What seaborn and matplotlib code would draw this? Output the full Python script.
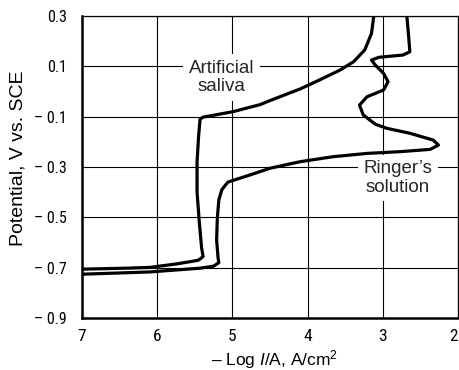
import matplotlib
matplotlib.use("Agg")
import matplotlib.pyplot as plt
import seaborn as sns
import pandas as pd

# ---- data ----
saliva_logI = [7.00, 6.41, 6.10, 5.74, 5.52, 5.45, 5.39, 5.41, 5.44, 5.47, 5.47, 5.45, 5.43,
               5.39, 4.99, 4.63, 4.50, 4.10, 3.84, 3.57, 3.39, 3.24, 3.15, 3.12]
saliva_E = [-0.706, -0.702, -0.699, -0.685, -0.674, -0.670, -0.656, -0.62, -0.52, -0.40, -0.28, -0.18, -0.11,
            -0.102, -0.080, -0.052, -0.036, 0.010, 0.046, 0.085, 0.118, 0.165, 0.231, 0.300]

ringer_logI = [7.00, 6.10, 5.74, 5.43, 5.25, 5.18, 5.19, 5.21, 5.20, 5.18, 5.14, 5.06, 4.77, 4.50,
               4.10, 3.66, 3.21, 2.77, 2.37, 2.26, 2.33, 2.64, 2.95, 3.10, 3.26, 3.31, 3.21, 2.99,
               2.93, 2.99, 3.10, 3.15, 3.05, 2.73, 2.64, 2.66, 2.68]
ringer_E = [-0.726, -0.717, -0.709, -0.702, -0.694, -0.680, -0.663, -0.59, -0.50, -0.43, -0.39, -0.36, -0.332, -0.305,
            -0.279, -0.259, -0.246, -0.239, -0.230, -0.213, -0.193, -0.166, -0.146, -0.130, -0.093, -0.054, -0.021, 0.006,
            0.039, 0.072, 0.105, 0.125, 0.136, 0.145, 0.158, 0.231, 0.300]

x_ticks = [7, 6, 5, 4, 3, 2]
x_ticklabels = ["7", "6", "5", "4", "3", "2"]
y_ticks = [0.3, 0.1, -0.1, -0.3, -0.5, -0.7, -0.9]
y_ticklabels = ["0.3", "0.1", "\u2013 0.1", "\u2013 0.3", "\u2013 0.5", "\u2013 0.7", "\u2013 0.9"]

labels = ["Artificial\nsaliva", "Ringer\u2019s\nsolution"]
label_x = [5.14, 2.80]
label_y = [0.055, -0.344]

# ---- figure ----
sns.set_style("white")
plt.rcParams['font.family'] = ['Liberation Sans', 'DejaVu Sans']
plt.rcParams['mathtext.fontset'] = 'custom'
plt.rcParams['mathtext.rm'] = 'Liberation Sans'
plt.rcParams['mathtext.it'] = 'Liberation Sans:italic'
narrow = ['Roboto Condensed', 'Liberation Sans', 'DejaVu Sans']

fig = plt.figure(figsize=(4.59, 3.70), dpi=100)
ax = fig.add_axes([82/459, 1 - 318/370, (458 - 82)/459, (318 - 16)/370])

df_s = pd.DataFrame({"logI": saliva_logI, "E": saliva_E})
df_r = pd.DataFrame({"logI": ringer_logI, "E": ringer_E})
for d in (df_s, df_r):
    sns.lineplot(data=d, x="logI", y="E", sort=False, estimator=None, color="black",
                 lw=2.3, ax=ax, solid_joinstyle="round", solid_capstyle="round", zorder=4)

ax.set_xlim(7, 2)
ax.set_ylim(-0.9, 0.3)
ax.set_xticks(x_ticks)
ax.set_xticklabels(x_ticklabels, fontsize=12.5, family=narrow)
ax.get_xticklabels()[-1].set_ha("right")
ax.set_yticks(y_ticks)
ax.set_yticklabels(y_ticklabels, fontsize=11.5, family=narrow)
ax.tick_params(axis="both", length=0, colors="black")
ax.tick_params(axis="y", pad=11)
ax.tick_params(axis="x", pad=8)

ax.set_axisbelow(True)
ax.grid(True, color="black", lw=0.8)

for side in ("left", "bottom"):
    ax.spines[side].set_linewidth(1.8)
for side in ("top", "right"):
    ax.spines[side].set_linewidth(0.9)
for s in ax.spines.values():
    s.set_color("black")

ax.set_xlabel("\u2013 Log $\\it{I}$/A, A/cm$^2$", fontsize=12.5, color="black", va="baseline")
ax.set_ylabel("Potential, V vs. SCE", fontsize=14, color="black")
ax.xaxis.set_label_coords(0.513, -0.156)
ax.yaxis.set_label_coords(-0.147, 0.53)

for t, xx, yy in zip(labels, label_x, label_y):
    ax.text(xx, yy, t, ha="center", va="center", fontsize=13.5, linespacing=1.1,
            multialignment="center", zorder=3,
            bbox=dict(boxstyle="square,pad=0.3", fc="white", ec="none"))

fig.savefig("out.png", dpi=100)
